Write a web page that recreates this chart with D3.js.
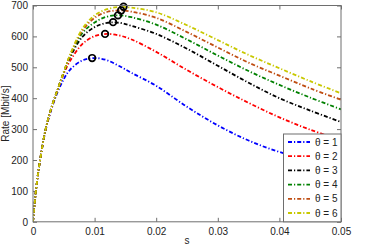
<!DOCTYPE html>
<html>
<head>
<meta charset="utf-8">
<script src="https://cdn.jsdelivr.net/npm/d3@7"></script>
<style>
  body { margin: 0; background: #fff; }
  svg { display: block; }
  text { font-family: "Liberation Sans", Arial, sans-serif; fill: #222; }
</style>
</head>
<body>
<svg id="chart"></svg>
<script>
// sample points along s (shared by all series)
var sVals = [0, 0.0005, 0.001, 0.002, 0.003, 0.004, 0.005, 0.006, 0.008, 0.010,
             0.012, 0.014, 0.016, 0.020, 0.025, 0.030, 0.035, 0.040, 0.045, 0.050];

var rate1 = [0, 105, 180, 292, 365, 420, 462, 492, 522, 530, 523, 504, 482, 440, 372, 312, 263, 226, 200, 180];
var rate2 = [0, 105, 180, 294, 368, 428, 480, 520, 575, 601, 608, 603, 590, 550, 491, 436, 385, 338, 298, 265];
var rate3 = [0, 105, 180, 295, 370, 428, 484, 532, 598, 630, 644, 644, 634, 608, 560, 505, 450, 400, 360, 323];
var rate4 = [0, 105, 180, 295, 370, 428, 485, 536, 610, 645, 664, 668, 662, 638, 590, 538, 488, 443, 402, 364];
var rate5 = [0, 105, 180, 295, 370, 428, 485, 538, 618, 660, 679, 684, 680, 660, 614, 564, 515, 473, 432, 395];
var rate6 = [0, 105, 180, 295, 370, 428, 485, 540, 624, 668, 688, 695, 693, 678, 636, 588, 540, 497, 455, 416];

// optimum (circle markers)
var peakS = [0.0096, 0.0117, 0.0130, 0.0138, 0.0143, 0.0147];
var peakR = [530, 608, 646, 668, 684, 696];

var labels = ['\u03b8 = 1', '\u03b8 = 2', '\u03b8 = 3', '\u03b8 = 4', '\u03b8 = 5', '\u03b8 = 6'];
var colors = ['#0000ff', '#ff0000', '#000000', '#008000', '#bf4d12', '#c8c800'];

var xTicks = [0, 0.01, 0.02, 0.03, 0.04, 0.05];
var yTicks = [0, 100, 200, 300, 400, 500, 600, 700];

var series = [rate1, rate2, rate3, rate4, rate5, rate6];

var W = 369, H = 247;
var L = 33, R = 341, T = 5.5, B = 221.8;

var svg = d3.select('#chart').attr('width', W).attr('height', H);

var x = d3.scaleLinear().domain([0, 0.05]).range([L, R]);
var y = d3.scaleLinear().domain([0, 700]).range([B, T]);

svg.append('clipPath').attr('id', 'clip')
  .append('rect').attr('x', L).attr('y', T).attr('width', R - L).attr('height', B - T);

// axes (ticks inward, box on)
var axisColor = '#6e6e6e';
function styleAxis(g, showText) {
  g.select('.domain').remove();
  g.selectAll('.tick line').attr('stroke', axisColor);
  g.selectAll('.tick text').style('font-size', '10px').attr('fill', '#222');
  if (!showText) g.selectAll('.tick text').remove();
}
svg.append('g').attr('transform', 'translate(0,' + B + ')')
  .call(d3.axisBottom(x).tickValues(xTicks).tickFormat(function (d) { return d === 0 ? '0' : d3.format('.2f')(d).replace(/0$/, ''); })
    .tickSizeInner(-4).tickSizeOuter(0).tickPadding(6))
  .call(function (g) { styleAxis(g, true); });
svg.append('g').attr('transform', 'translate(0,' + T + ')')
  .call(d3.axisTop(x).tickValues(xTicks).tickSizeInner(-4).tickSizeOuter(0))
  .call(function (g) { styleAxis(g, false); });
svg.append('g').attr('transform', 'translate(' + L + ',0)')
  .call(d3.axisLeft(y).tickValues(yTicks).tickSizeInner(-4).tickSizeOuter(0).tickPadding(5))
  .call(function (g) { styleAxis(g, true); });
svg.append('g').attr('transform', 'translate(' + R + ',0)')
  .call(d3.axisRight(y).tickValues(yTicks).tickSizeInner(-4).tickSizeOuter(0))
  .call(function (g) { styleAxis(g, false); });

// curves
var line = d3.line()
  .x(function (d) { return x(d[0]); })
  .y(function (d) { return y(d[1]); })
  .curve(d3.curveCatmullRom.alpha(0.5));

var curves = svg.append('g').attr('clip-path', 'url(#clip)');
series.forEach(function (vals, i) {
  curves.append('path')
    .datum(sVals.map(function (s, j) { return [s, vals[j]]; }))
    .attr('d', line)
    .attr('fill', 'none')
    .attr('stroke', colors[i])
    .attr('stroke-width', 1.8)
    .attr('stroke-dasharray', '4,2,1.2,2');
});

svg.append('g').selectAll('circle')
  .data(peakS.map(function (s, i) { return [s, peakR[i]]; }))
  .enter().append('circle')
  .attr('cx', function (d) { return x(d[0]); })
  .attr('cy', function (d) { return y(d[1]); })
  .attr('r', 3.3)
  .attr('fill', 'none')
  .attr('stroke', '#000')
  .attr('stroke-width', 1.7);

// frame
svg.append('rect').attr('x', L).attr('y', T).attr('width', R - L).attr('height', B - T)
  .attr('fill', 'none').attr('stroke', axisColor).attr('stroke-width', 1);

// legend
var lg = svg.append('g');
lg.append('rect').attr('x', 283.5).attr('y', 134).attr('width', R - 283.5).attr('height', B - 134)
  .attr('fill', '#fff').attr('stroke', axisColor).attr('stroke-width', 1);
labels.forEach(function (lab, i) {
  var yy = 142 + i * 14.2;
  lg.append('line').attr('x1', 288).attr('x2', 310).attr('y1', yy).attr('y2', yy)
    .attr('stroke', colors[i]).attr('stroke-width', 1.8).attr('stroke-dasharray', '4,2,1.2,2');
  lg.append('text').attr('x', 315).attr('y', yy + 3.5).style('font-size', '10px').text(lab);
});

// axis labels
svg.append('text').attr('x', (L + R) / 2).attr('y', 244).attr('text-anchor', 'middle')
  .style('font-size', '10px').text('s');
svg.append('text').attr('transform', 'translate(9,' + (T + B) / 2 + ') rotate(-90)')
  .attr('text-anchor', 'middle').style('font-size', '10px').text('Rate [Mbit/s]');
</script>
</body>
</html>
